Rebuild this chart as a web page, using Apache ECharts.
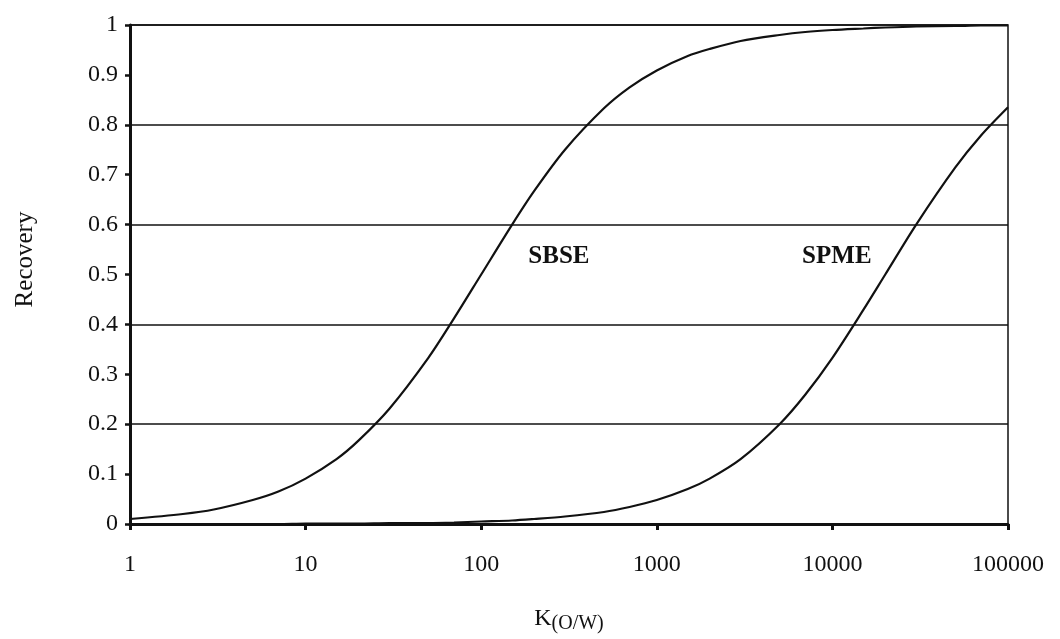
<html><head><meta charset="utf-8"><script src="https://cdn.jsdelivr.net/npm/echarts@6/dist/echarts.min.js"></script>
<style type="text/css">
        html, body { height: 100%; margin: 0; padding: 0; background: #fff; }
    </style></head><body><div id="main" style="width: 1060px;height:639px;"></div><script type="text/javascript">
        // values
        var kValues = [1, 2, 3, 5, 7, 10, 15, 20, 30, 50, 70, 100, 150, 200, 300, 500, 700, 1000, 1500, 2000, 3000, 5000, 7000, 10000, 15000, 20000, 30000, 50000, 70000, 100000];
        var sbse = [0.010, 0.020, 0.029, 0.048, 0.065, 0.091, 0.130, 0.167, 0.231, 0.333, 0.412, 0.500, 0.600, 0.667, 0.750, 0.833, 0.875, 0.909, 0.938, 0.952, 0.968, 0.980, 0.986, 0.990, 0.993, 0.995, 0.997, 0.998, 0.999, 0.999];
        var spme = [0.000, 0.000, 0.000, 0.000, 0.000, 0.001, 0.001, 0.001, 0.002, 0.002, 0.003, 0.005, 0.007, 0.010, 0.015, 0.024, 0.034, 0.048, 0.070, 0.091, 0.130, 0.200, 0.259, 0.333, 0.429, 0.500, 0.600, 0.714, 0.778, 0.835];
        var seriesNames = ['SBSE', 'SPME'];
        var labelAt = [[277, 0.535], [10600, 0.535]];

        var font = '"Liberation Serif", "DejaVu Serif", serif';
        var myChart = echarts.init(document.getElementById('main'));

        var pairs = function (ys) {
            var res = [];
            for (var i = 0; i < kValues.length; i++) {
                res.push([kValues[i], ys[i]]);
            }
            return res;
        };

        var series = [sbse, spme].map(function (ys, i) {
            return {
                name: seriesNames[i],
                type: 'line',
                smooth: 0.3,
                showSymbol: false,
                lineStyle: { color: '#111', width: 2.2 },
                data: pairs(ys),
                markPoint: {
                    symbol: 'circle',
                    symbolSize: 0,
                    label: {
                        show: true,
                        formatter: seriesNames[i],
                        color: '#111',
                        fontFamily: font,
                        fontSize: 25,
                        fontWeight: 'bold',
                        position: 'inside'
                    },
                    data: [{ coord: labelAt[i] }]
                }
            };
        });

        option = {
            animation: false,
            backgroundColor: '#fff',
            grid: {
                left: 130, right: 52, top: 25, bottom: 115,
                outerBoundsMode: 'none',
                containLabel: false,
                show: true, borderColor: '#111', borderWidth: 1.5
            },
            xAxis: {
                type: 'log',
                logBase: 10,
                min: 1,
                max: 100000,
                name: '{k|K}{s|(O/W)}',
                nameLocation: 'middle',
                nameGap: 80,
                nameTextStyle: {
                    rich: {
                        k: { fontFamily: font, fontSize: 24, color: '#111' },
                        s: { fontFamily: font, fontSize: 20, color: '#111', padding: [10, 0, 0, 0] }
                    }
                },
                axisLine: { lineStyle: { color: '#111', width: 3 } },
                axisTick: { show: true, length: 6, lineStyle: { color: '#111', width: 3 } },
                axisLabel: {
                    color: '#111', fontFamily: font, fontSize: 24, margin: 29,
                    formatter: function (v) { return String(Math.round(v)); }
                },
                splitLine: { show: false },
                minorTick: { show: false }
            },
            yAxis: [{
                type: 'value',
                min: 0, max: 1, interval: 0.1,
                name: 'Recovery',
                nameLocation: 'middle',
                nameGap: 92,
                nameTextStyle: { fontFamily: font, fontSize: 25, color: '#111', padding: [0, 0, 0, 30] },
                axisLine: { show: true, lineStyle: { color: '#111', width: 3 } },
                axisTick: { show: true, length: 5, lineStyle: { color: '#111', width: 2.5 } },
                axisLabel: { color: '#111', fontFamily: font, fontSize: 24, margin: 12 },
                splitLine: { show: false }
            }, {
                type: 'value',
                position: 'left',
                min: 0, max: 1, interval: 0.2,
                axisLine: { show: false },
                axisTick: { show: false },
                axisLabel: { show: false },
                splitLine: { show: true, lineStyle: { color: '#111', width: 1.5 } }
            }],
            series: series
        };
        myChart.setOption(option);
    </script></body></html>
